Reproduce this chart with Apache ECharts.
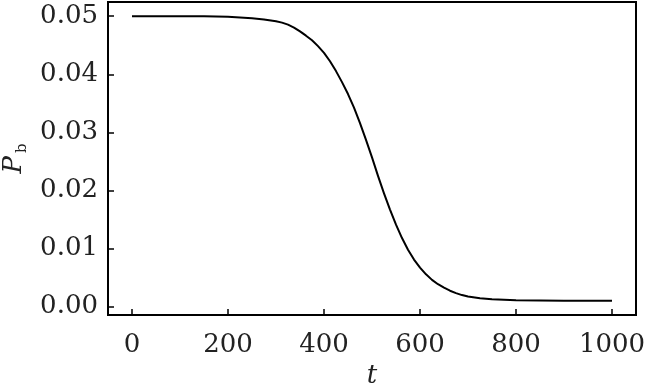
<!DOCTYPE html>
<html>
<head>
<meta charset="utf-8">
<script src="https://cdn.jsdelivr.net/npm/echarts@6/dist/echarts.min.js"></script>
<style>html,body{margin:0;padding:0;background:#fff}#c{width:646px;height:384px}</style>
</head>
<body>
<div id="c"></div>
<script>
// time values t
const tValues = [0, 50, 100, 150, 200, 250, 275, 300, 312.5, 325, 337.5, 350, 362.5, 375, 387.5,
  400, 412.5, 425, 437.5, 450, 462.5, 475, 487.5, 500, 512.5, 525, 537.5, 550, 562.5, 575, 587.5,
  600, 612.5, 625, 637.5, 650, 662.5, 675, 687.5, 700, 725, 750, 800, 850, 900, 1000];
// P_b values
const pbValues = [0.0500, 0.0500, 0.0500, 0.04998, 0.04990, 0.04965, 0.04945, 0.04912, 0.04890,
  0.04855, 0.04805, 0.04740, 0.04665, 0.04585, 0.04485, 0.04370, 0.04225, 0.04055, 0.03865,
  0.03660, 0.03425, 0.03160, 0.02870, 0.02570, 0.02250, 0.01950, 0.01670, 0.01410, 0.01180,
  0.00980, 0.00810, 0.00670, 0.00555, 0.00460, 0.00385, 0.00325, 0.00273, 0.00232, 0.00198,
  0.00172, 0.00142, 0.00125, 0.00108, 0.00103, 0.00101, 0.00100];
const xTicks = [0, 200, 400, 600, 800, 1000];
const yTicks = [0.00, 0.01, 0.02, 0.03, 0.04, 0.05];

const FONT = 'DejaVu Serif';
const chart = echarts.init(document.getElementById('c'), null, {renderer: 'canvas'});
chart.setOption({
  animation: false,
  grid: {left: 108, right: 10, top: 2, bottom: 69, show: true, borderColor: '#000', borderWidth: 2,
    backgroundColor: '#fff', containLabel: false, outerBoundsMode: 'none'},
  xAxis: {
    type: 'value', min: -50, max: 1050,
    axisLine: {show: false, onZero: false},
    splitLine: {show: false},
    axisTick: {show: true, inside: true, length: 6, lineStyle: {color: '#000', width: 1.5}, customValues: xTicks},
    axisLabel: {customValues: xTicks, color: '#222', fontFamily: FONT, fontSize: 26, margin: 17,
      formatter: v => String(v)},
    name: 't', nameLocation: 'middle', nameGap: 45,
    nameTextStyle: {fontFamily: FONT, fontStyle: 'italic', fontSize: 26, color: '#222'}
  },
  yAxis: {
    type: 'value', min: -0.00145, max: 0.05245,
    axisLine: {show: false, onZero: false},
    splitLine: {show: false},
    axisTick: {show: true, inside: true, length: 6, lineStyle: {color: '#000', width: 1.5}, customValues: yTicks},
    axisLabel: {customValues: yTicks, color: '#222', fontFamily: FONT, fontSize: 26, margin: 10,
      formatter: v => v.toFixed(2)},
    name: '{p|P}{b|b}', nameLocation: 'middle', nameGap: 76, nameRotate: 90,
    nameTextStyle: {rich: {
      p: {fontFamily: FONT, fontStyle: 'italic', fontSize: 26, color: '#222'},
      b: {fontFamily: FONT, fontSize: 15, color: '#222', verticalAlign: 'bottom', padding: [14, 0, 0, 3]}
    }}
  },
  series: [{
    type: 'line', showSymbol: false, smooth: false,
    data: tValues.map((t, i) => [t, pbValues[i]]),
    lineStyle: {color: '#000', width: 2, join: 'round'}
  }]
});
</script>
</body>
</html>
